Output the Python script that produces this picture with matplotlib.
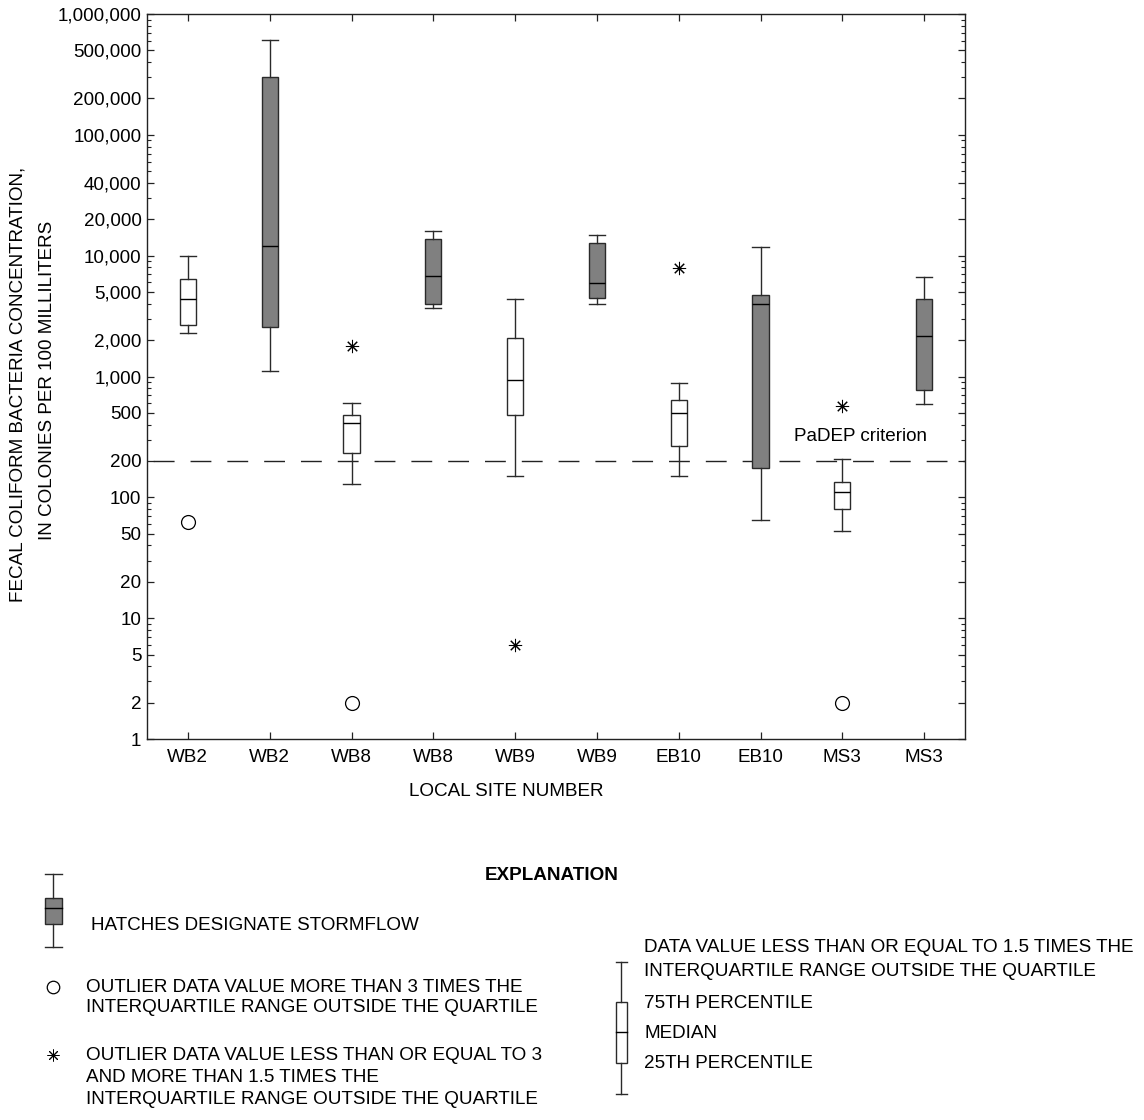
import matplotlib
matplotlib.use("Agg")
import matplotlib.pyplot as plt
from matplotlib.ticker import FixedLocator, FixedFormatter, NullFormatter
from matplotlib.patches import Rectangle

plt.rcParams['font.family'] = ['Liberation Sans', 'DejaVu Sans']

# ---------------- data ----------------
sites = ['WB2', 'WB2', 'WB8', 'WB8', 'WB9', 'WB9', 'EB10', 'EB10', 'MS3', 'MS3']
stormflow = [False, True, False, True, False, True, False, True, False, True]
whisker_low = [2300, 1110, 129, 3700, 150, 4000, 150, 65, 53, 595]
q25 = [2680, 2570, 233, 4000, 480, 4470, 267, 176, 80, 775]
median = [4400, 12000, 415, 6800, 935, 5900, 500, 3970, 110, 2180]
q75 = [6400, 300000, 480, 13800, 2100, 12800, 640, 4730, 134, 4360]
whisker_high = [10000, 605000, 605, 15900, 4400, 14800, 880, 11900, 208, 6600]
# outliers more than 3 IQR (open circles): (box index, value)
far_outlier_box = [1, 3, 9]
far_outlier_val = [63, 2, 2]
# outliers between 1.5 and 3 IQR (asterisks)
near_outlier_box = [3, 5, 7, 9]
near_outlier_val = [1780, 6, 7900, 570]
criterion = 200
ytick_vals = [1, 2, 5, 10, 20, 50, 100, 200, 500, 1000, 2000, 5000, 10000,
              20000, 40000, 100000, 200000, 500000, 1000000]
ytick_labels = ['1', '2', '5', '10', '20', '50', '100', '200', '500', '1,000',
                '2,000', '5,000', '10,000', '20,000', '40,000', '100,000',
                '200,000', '500,000', '1,000,000']

W, H = 1144, 1120
FS = 13.6
fig = plt.figure(figsize=(W / 100, H / 100), dpi=100)
ax = fig.add_axes([147 / W, 1 - 739 / H, (965 - 147) / W, (739 - 14) / H])

positions = list(range(1, len(sites) + 1))
stats = []
for i in range(len(sites)):
    stats.append(dict(med=median[i], q1=q25[i], q3=q75[i],
                      whislo=whisker_low[i], whishi=whisker_high[i],
                      fliers=[], label=sites[i]))

edge = '#2a2a2a'
bp = ax.bxp(stats, positions=positions, widths=0.2, capwidths=0.2,
            patch_artist=True, showfliers=False,
            boxprops=dict(edgecolor=edge, linewidth=1.0),
            whiskerprops=dict(color=edge, linewidth=1.0),
            capprops=dict(color=edge, linewidth=1.0),
            medianprops=dict(color='black', linewidth=1.0))
for patch, st in zip(bp['boxes'], stormflow):
    patch.set_facecolor('#808080' if st else 'white')
for z in bp['boxes'] + bp['whiskers'] + bp['caps'] + bp['medians']:
    z.set_zorder(3)

ax.plot([positions[i - 1] for i in far_outlier_box], far_outlier_val,
        linestyle='none', marker='o', markersize=10, markerfacecolor='white',
        markeredgecolor='black', markeredgewidth=0.9, zorder=4)
ax.plot([positions[i - 1] for i in near_outlier_box], near_outlier_val,
        linestyle='none', marker=(8, 2, 0), markersize=9.5,
        color='black', markeredgewidth=0.75, zorder=4)

ax.axhline(criterion, color='#222222', linewidth=1.0,
           linestyle=(22, (15, 11.5)), zorder=2)
ax.text(9.22, 316, 'PaDEP criterion', ha='center', va='center', fontsize=FS)

ax.set_yscale('log')
ax.set_ylim(1, 1000000)
ax.set_xlim(0.5, 10.5)
ax.yaxis.set_major_locator(FixedLocator(ytick_vals))
ax.yaxis.set_major_formatter(FixedFormatter(ytick_labels))
minor = []
for d in [1, 10, 100, 1000, 10000, 100000]:
    for m in range(2, 10):
        v = m * d
        if v not in ytick_vals:
            minor.append(v)
ax.yaxis.set_minor_locator(FixedLocator(minor))
ax.yaxis.set_minor_formatter(NullFormatter())
ax.set_xticks(positions)
ax.set_xticklabels(sites)
ax.tick_params(axis='both', which='major', direction='in', length=5,
               width=0.9, colors='#222222', labelcolor='black', labelsize=FS,
               top=True, right=True)
ax.tick_params(axis='y', which='major', pad=4)
ax.tick_params(axis='x', which='major', pad=7)
ax.tick_params(axis='y', which='minor', direction='in', length=3, width=0.8,
               colors='#222222', right=True)
for s in ax.spines.values():
    s.set_linewidth(1.0)
    s.set_color('#222222')

# axis titles
fig.text(18 / W, 1 - 384 / H, 'FECAL COLIFORM BACTERIA CONCENTRATION,',
         rotation=90, ha='center', va='center', fontsize=FS)
fig.text(48 / W, 1 - 380 / H, 'IN COLONIES PER 100 MILLILITERS',
         rotation=90, ha='center', va='center', fontsize=FS)
fig.text(506 / W, 1 - 792 / H, 'LOCAL SITE NUMBER', ha='center', va='center',
         fontsize=FS)

# ---------------- explanation ----------------
lg = fig.add_axes([0, 0, 1, 1])
lg.set_xlim(0, W)
lg.set_ylim(H, 0)
lg.axis('off')
lg.patch.set_alpha(0)

lg.text(552, 876, 'EXPLANATION', ha='center', va='center', fontsize=FS,
        fontweight='bold')


def glyph(x, wlo, b, m, t, whi, bw, face):
    lg.plot([x, x], [wlo, b], color=edge, lw=1.0)
    lg.plot([x, x], [t, whi], color=edge, lw=1.0)
    lg.plot([x - bw / 2, x + bw / 2], [wlo, wlo], color=edge, lw=1.0)
    lg.plot([x - bw / 2, x + bw / 2], [whi, whi], color=edge, lw=1.0)
    lg.add_patch(Rectangle((x - bw / 2, t), bw, b - t, facecolor=face,
                           edgecolor=edge, lw=1.0))
    lg.plot([x - bw / 2, x + bw / 2], [m, m], color='black', lw=1.0)


glyph(53, 947, 924, 908, 898, 874, 17, '#808080')
lg.text(91, 925, 'HATCHES DESIGNATE STORMFLOW', ha='left', va='center',
        fontsize=FS)

lg.plot([53], [987], marker='o', markersize=9, markerfacecolor='white',
        markeredgecolor='black', markeredgewidth=0.9)
lg.text(86, 987, 'OUTLIER DATA VALUE MORE THAN 3 TIMES THE', ha='left',
        va='center', fontsize=FS)
lg.text(86, 1008, 'INTERQUARTILE RANGE OUTSIDE THE QUARTILE', ha='left',
        va='center', fontsize=FS)

lg.plot([53], [1055], marker=(8, 2, 0), markersize=8.5, color='black',
        markeredgewidth=0.7)
lg.text(86, 1055, 'OUTLIER DATA VALUE LESS THAN OR EQUAL TO 3', ha='left',
        va='center', fontsize=FS)
lg.text(86, 1078, 'AND MORE THAN 1.5 TIMES THE', ha='left', va='center',
        fontsize=FS)
lg.text(86, 1100, 'INTERQUARTILE RANGE OUTSIDE THE QUARTILE', ha='left',
        va='center', fontsize=FS)

glyph(621, 1094, 1063, 1032, 1002, 962, 11, 'white')
lg.text(644, 947, 'DATA VALUE LESS THAN OR EQUAL TO 1.5 TIMES THE',
        ha='left', va='center', fontsize=FS)
lg.text(644, 972, 'INTERQUARTILE RANGE OUTSIDE THE QUARTILE', ha='left',
        va='center', fontsize=FS)
lg.text(644, 1003, '75TH PERCENTILE', ha='left', va='center', fontsize=FS)
lg.text(644, 1033, 'MEDIAN', ha='left', va='center', fontsize=FS)
lg.text(644, 1063, '25TH PERCENTILE', ha='left', va='center', fontsize=FS)

fig.savefig('out.png', dpi=100)
